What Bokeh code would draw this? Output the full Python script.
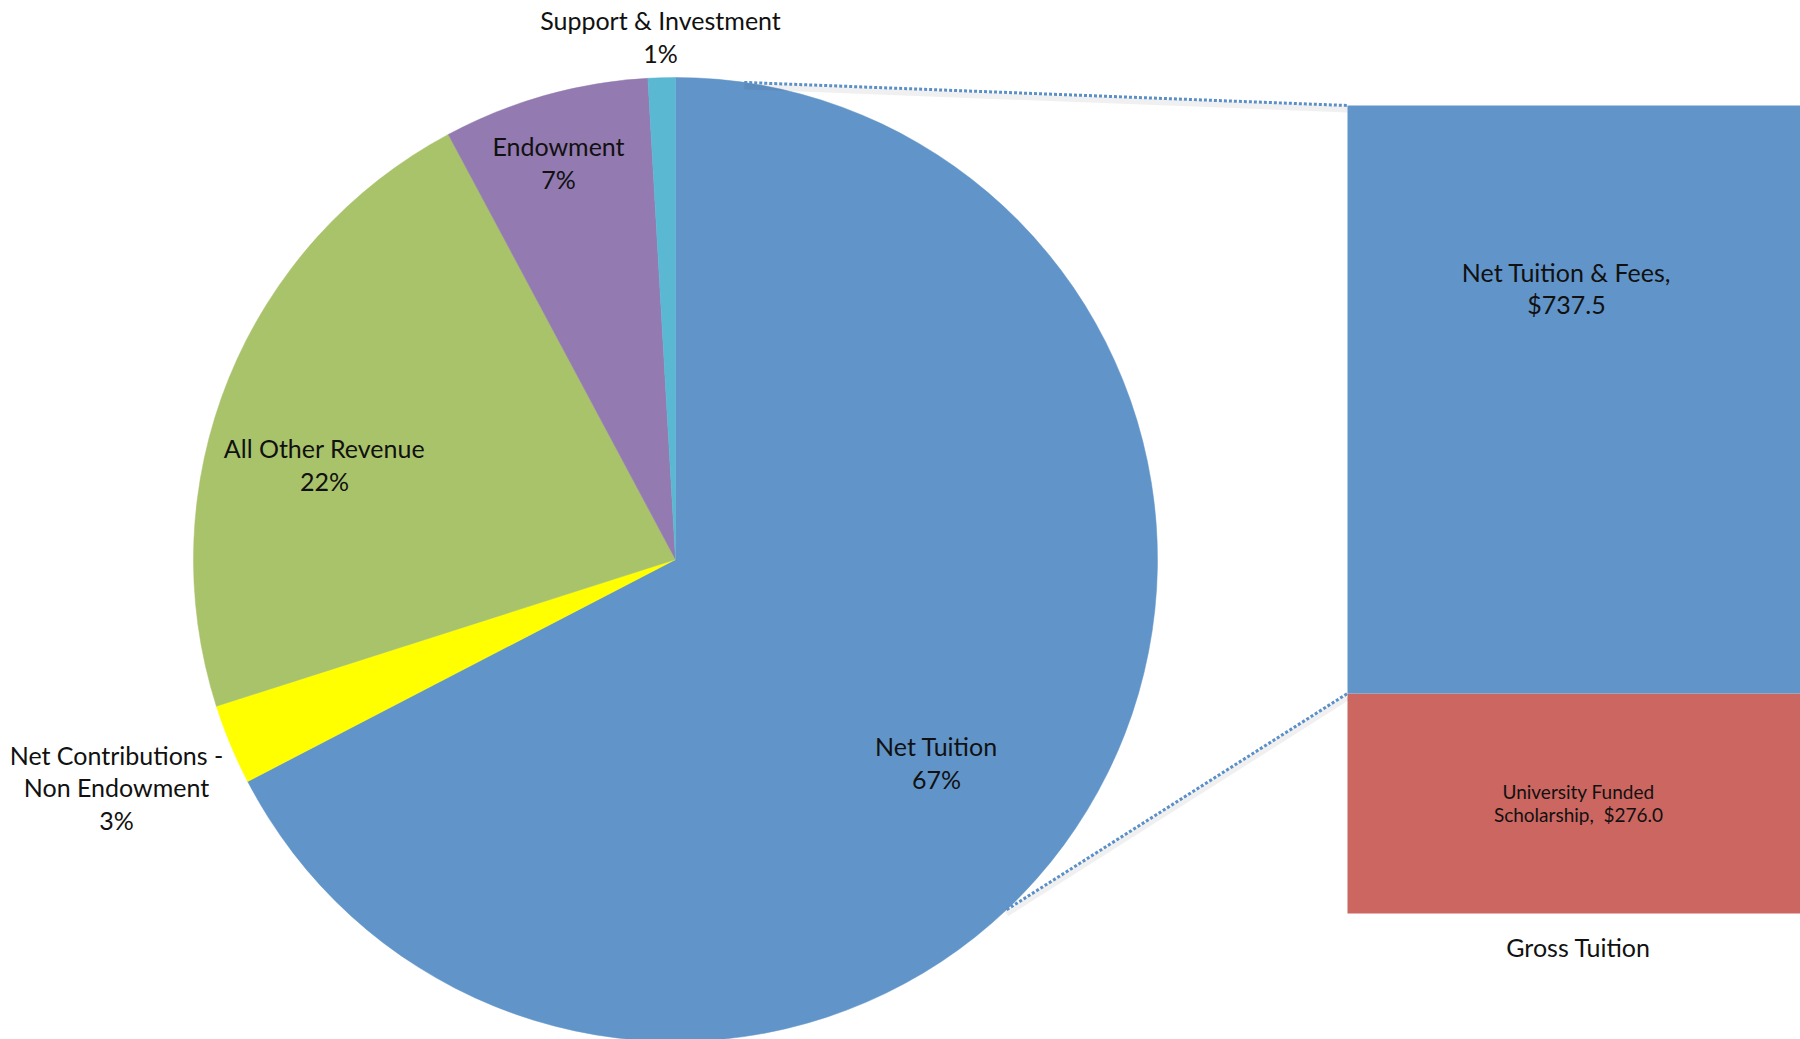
import math
from bokeh.plotting import figure
from bokeh.models import Range1d, ColumnDataSource
from bokeh.core.properties import value
from bokeh.embed import file_html
from bokeh.resources import INLINE

# ---- data ----
pie_names = ["Net Tuition", "Net Contributions -\nNon Endowment", "All Other Revenue",
             "Endowment", "Support & Investment"]
pie_values = [737.5, 29.5, 242.0, 75.5, 10.0]          # $M (estimated)
pie_colors = ["#6195C9", "#FFFF00", "#A9C36B", "#937AB0", "#5BB8D3"]

bar_names = ["University Funded\nScholarship,", "Net Tuition & Fees,"]
bar_values = [276.0, 737.5]
bar_colors = ["#CC6660", "#6195C9"]
bar_category = "Gross Tuition"

# ---- layout / style ----
W, H = 1800, 1039
FONT = "Lato"
cx, cy, R = 675, 480, 482
label_offsets = [(261, -203), (-559, -228), (-351, 95), (-117, 397), (-15, 523)]
bar_left, bar_right = 1347, 1803
bar_bottom_px, bar_top_px = 126, 934
conn_angles = [90 - 8.2, 90 - 136.6]   # points on pie where connectors start

p = figure(width=W, height=H, x_range=Range1d(0, W), y_range=Range1d(0, H),
           output_backend="svg", toolbar_location=None, min_border=0,
           outline_line_color=None, background_fill_color="white")
p.axis.visible = False
p.grid.visible = False

# pie
total = sum(pie_values)
cum = 0.0
starts, ends = [], []
for v in pie_values:
    c0 = cum / total
    cum += v
    c1 = cum / total
    starts.append(math.radians(90 - 360 * c1))
    ends.append(math.radians(90 - 360 * c0))
pie_src = ColumnDataSource(dict(start=starts, end=ends, color=pie_colors))
p.wedge(x=cx, y=cy, radius=R, start_angle="start", end_angle="end",
        direction="anticlock", fill_color="color", line_color="color", line_width=0.5,
        source=pie_src)

labels = [f"{n}\n{round(100 * v / total)}%" for n, v in zip(pie_names, pie_values)]
lx = [cx + o[0] for o in label_offsets]
ly = [cy + o[1] for o in label_offsets]
p.text(x=lx, y=ly, text=labels, text_font=value(FONT), text_font_size="25px",
       text_align="center", text_baseline="middle", text_line_height=1.08,
       text_color="#111111")

# bar (own value scale)
btot = sum(bar_values)
s = (bar_top_px - bar_bottom_px) / btot
p.extra_y_ranges = {"bar": Range1d(-bar_bottom_px / s, (H - bar_bottom_px) / s)}
bcum = 0.0
bb, bt = [], []
for v in bar_values:
    bb.append(bcum)
    bcum += v
    bt.append(bcum)
p.quad(left=bar_left, right=bar_right, bottom=bb, top=bt, fill_color=bar_colors,
       line_color=None, y_range_name="bar")

mid = (bar_left + bar_right) / 2
btxt = [f"{bar_names[0]}\u00a0 ${bar_values[0]:.1f}", f"{bar_names[1]}\n${bar_values[1]:.1f}"]
p.text(x=[mid + 3], y=[(bb[0] + bt[0]) / 2], text=[btxt[0]], text_font=value(FONT),
       text_font_size="19px", text_align="center", text_baseline="middle",
       text_line_height=1.0, text_color="#111111", y_range_name="bar")
p.text(x=[mid - 9], y=[bt[1] - bar_values[1] * 0.31], text=[btxt[1]], text_font=value(FONT),
       text_font_size="25px", text_align="center", text_baseline="middle",
       text_line_height=1.08, text_color="#111111", y_range_name="bar")
p.text(x=[mid + 3], y=[bar_bottom_px - 33], text=[bar_category], text_font=value(FONT),
       text_font_size="25px", text_align="center", text_baseline="middle",
       text_color="#111111")

# connectors
ends_px = [bar_bottom_px + btot * s, bar_bottom_px + bar_values[0] * s]
for a, ey in zip(conn_angles, ends_px):
    sx = cx + R * math.cos(math.radians(a))
    sy = cy + R * math.sin(math.radians(a))
    p.line([sx, bar_left], [sy - 4, ey - 4], line_color="#000000", line_alpha=0.06, line_width=6)
    p.line([sx, bar_left], [sy, ey], line_color="#5B8FC8", line_width=3, line_dash="3 2")

open("out.html", "w").write(file_html(p, INLINE))
